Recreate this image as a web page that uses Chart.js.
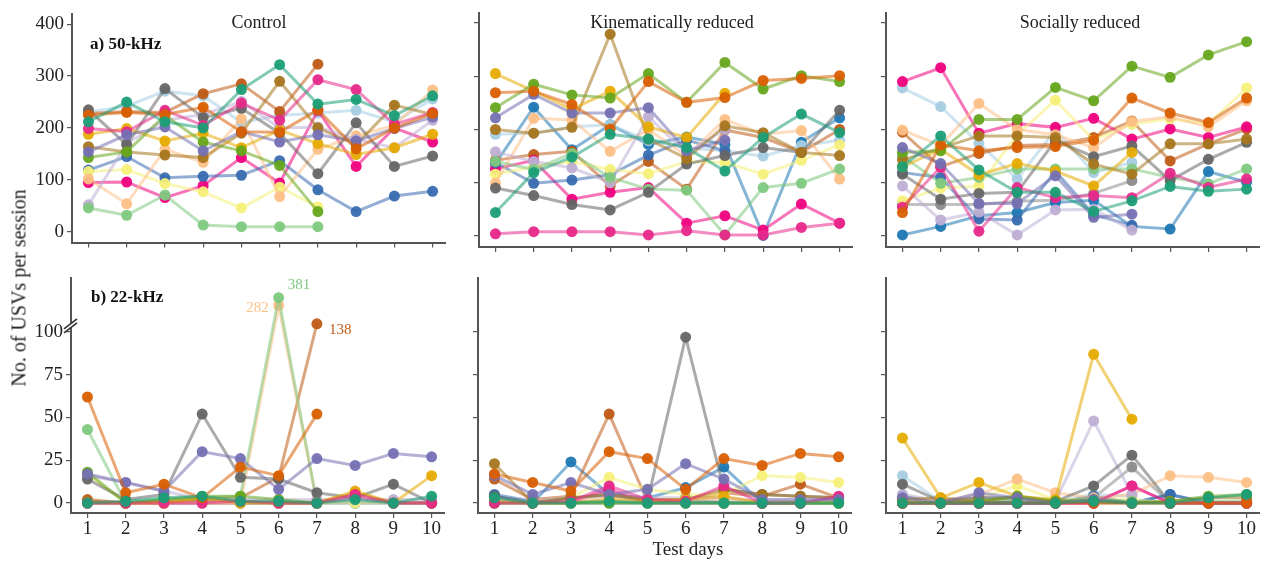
<!DOCTYPE html>
<html>
<head>
<meta charset="utf-8">
<script src="https://cdn.jsdelivr.net/npm/chart.js@4"></script>
<style>
  body { margin: 0; background: #fff; font-family: "Liberation Serif", serif; }
  #page { position: relative; width: 1264px; height: 561px; overflow: hidden; }
  canvas { position: absolute; }
  .txt { position: absolute; color: #222; font-size: 18px; white-space: nowrap; transform: translate(-50%, -50%); }
  .lbl { position: absolute; color: #111; font-size: 17px; font-weight: bold; white-space: nowrap; }
  #ytitle { position: absolute; left: 19px; top: 288px; font-size: 20px; color: #222; white-space: nowrap;
            transform: translate(-50%, -50%) rotate(-90deg); }
</style>
</head>
<body>
<div id="page">
  <canvas id="c50"></canvas>
  <canvas id="k50"></canvas>
  <canvas id="s50"></canvas>
  <canvas id="c22"></canvas>
  <canvas id="k22"></canvas>
  <canvas id="s22"></canvas>
  <div class="txt" style="left:259px;top:22px">Control</div>
  <div class="txt" style="left:672px;top:22px">Kinematically reduced</div>
  <div class="txt" style="left:1080px;top:22px">Socially reduced</div>
  <div class="lbl" style="left:90px;top:34px">a) 50-kHz</div>
  <div class="lbl" style="left:91px;top:287px">b) 22-kHz</div>
  <div class="txt" style="left:688px;top:549px;font-size:19px">Test days</div>
  <div id="ytitle">No. of USVs per session</div>
</div>
<script>
const days = [1, 2, 3, 4, 5, 6, 7, 8, 9, 10];
const ticks50 = [0, 100, 200, 300, 400];
const ticks22 = [0, 25, 50, 75, 100];

// one colour per animal, same order in every panel
const seriesColors = [
  '#1B9E77', '#D95F02', '#7570B3', '#E7298A', '#66A61E', '#E6AB02', '#A6761D', '#666666',
  '#7FC97F', '#BEAED4', '#FDC086', '#F5F07A', '#386CB0', '#F0027F', '#BF5B17', '#A6CEE3',
  '#1F78B4', '#8C8C8C'
];

// a) 50-kHz
const control50 = [
  [212, 250, 212, 200, 274, 322, 246, 255, 224, 262],
  [225, 230, 226, 240, 193, 192, 235, 160, 200, 228],
  [154, 187, 202, 156, 193, 173, 187, 175, 199, 221],
  [199, 193, 234, 205, 248, 215, 293, 274, 207, 230],
  [143, 154, 224, 173, 156, 128, 39, null, null, null],
  [188, 199, 175, 190, 162, 196, 170, 149, 162, 188],
  [164, 154, 148, 143, 190, 290, 200, 168, 244, 226],
  [235, 168, 276, 220, 238, 190, 112, 210, 126, 146],
  [46, 32, 71, 13, 10, 10, 10, null, null, null],
  [52, 170, 215, 226, 251, 200, 202, 178, 162, 215],
  [102, 54, 159, 134, 218, 68, 159, 185, 205, 273],
  [116, 120, 93, 77, 46, 86, 48, null, null, null],
  [119, 145, 104, 107, 109, 137, 81, 39, 69, 78],
  [95, 96, 66, 89, 143, 94, 234, 126, 200, 173],
  [228, 232, 230, 266, 285, 232, 323, null, null, null],
  [231, 242, 271, 262, 211, 224, 229, 234, 212, 256]
];
const kinematic50 = [
  [44, 119, 148, 191, 182, 166, 122, 185, 229, 194],
  [269, 272, 247, 201, 290, 251, 260, 292, 296, 301],
  [222, 266, 231, 231, 241, 160, 180, null, null, null],
  [4, 8, 8, 8, 2, 10, 2, 2, 16, 24],
  [241, 285, 265, 259, 305, 251, 326, 276, 301, 290],
  [305, 272, 238, 272, 205, 185, 268, null, null, null],
  [200, 193, 204, 379, 182, 145, 207, 194, 157, 151],
  [90, 76, 59, 49, 82, 135, 151, 166, 157, 236],
  [140, 125, 155, 110, 88, 86, 2, 91, 99, 126],
  [158, 140, 128, 100, 224, 155, 200, null, null, null],
  [99, 221, 218, 159, 200, 150, 219, 191, 198, 107],
  [116, 130, 140, 125, 117, 140, 138, 116, 142, 171],
  [138, 99, 105, 115, 152, 180, 160, null, null, null],
  [126, 142, 69, 82, 91, 24, 38, 11, 60, 24],
  [142, 153, 159, 94, 140, 88, 199, 185, 157, 200],
  [191, 193, 205, 209, 179, 165, 160, 150, 170, 180],
  [136, 242, 162, 209, 172, 186, 172, 1, 176, 222]
];
const social50 = [
  [130, 188, 124, 82, 82, 46, 66, 93, 84, 88],
  [44, 171, 160, 166, 168, 180, 259, 231, 213, 259],
  [166, 136, 61, 61, 113, 35, 41, null, null, null],
  [54, 129, 9, 91, 72, 76, 72, 118, 91, 107],
  [157, 160, 219, 219, 279, 254, 319, 298, 340, 365],
  [130, 163, 115, 136, 122, 94, 157, null, null, null],
  [143, 165, 188, 188, 185, 135, 116, 173, 173, 182],
  [116, 69, 80, 82, 179, 149, 169, 104, 144, 176],
  [150, 99, 110, 126, 126, 126, 126, 110, 98, 126],
  [94, 30, 45, 2, 49, 50, 11, null, null, null],
  [199, 170, 249, 200, 190, 166, 215, 224, 205, 254],
  [66, 90, 94, 190, 255, 180, 210, 220, 210, 278],
  [119, 110, 32, 30, 122, 40, 20, null, null, null],
  [290, 316, 193, 211, 204, 221, 182, 201, 185, 205],
  [195, 130, 155, 170, 172, 185, 216, 141, 173, 201],
  [278, 243, 174, 107, 199, 119, 138, null, null, null],
  [2, 18, 38, 44, 63, 67, 18, 13, 121, 101],
  [59, 59, 59, 65, 67, 80, 104, null, null, null]
];

// b) 22-kHz
const control22 = [
  [0, 1, 3, 4, 1, 1, 0, 2, 0, 4],
  [62, 6, 11, 3, 21, 16, 52, null, null, null],
  [17, 12, 7, 30, 26, 8, 26, 22, 29, 27],
  [0, 0, 0, 0, 1, 0, 0, 5, 0, 0],
  [18, 0, 2, 4, 4, 2, 0, null, null, null],
  [0, 0, 0, 3, 0, 0, 0, 7, 0, 16],
  [1, 0, 1, 2, 1, 0, 0, 6, 0, 0],
  [14, 2, 5, 52, 15, 14, 6, 3, 11, 0],
  [43, 0, 2, 3, 4, 381, 0, null, null, null],
  [16, 12, 7, 2, 2, 2, 2, 2, 2, 2],
  [0, 0, 0, 0, 0, 282, 0, null, null, null],
  [17, 0, 0, 0, 0, 0, 0, 0, 0, 0],
  [0, 0, 0, 0, 0, 0, 0, 0, 0, 0],
  [0, 0, 0, 0, 0, 0, 0, 3, 0, 0],
  [2, 0, 0, 2, 3, 15, 138, null, null, null],
  [0, 0, 0, 0, 0, 0, 0, 0, 0, 0]
];
const kinematic22 = [
  [3, 0, 0, 1, 0, 0, 0, 0, 0, 0],
  [17, 12, 7, 30, 26, 8, 26, 22, 29, 27],
  [16, 5, 12, 5, 8, 23, 14, 2, 2, 2],
  [0, 0, 1, 10, 2, 1, 10, 0, 0, 4],
  [0, 0, 0, 0, 0, 0, 0, 0, 0, 0],
  [1, 0, 0, 2, 1, 2, 4, 0, 0, 0],
  [23, 0, 3, 5, 2, 2, 8, 5, 4, 3],
  [4, 0, 3, 5, 1, 97, 8, 5, 4, 3],
  [0, 0, 0, 0, 0, 0, 0, 0, 0, 0],
  [2, 1, 3, 4, 3, 3, 3, 1, 1, 1],
  [1, 0, 2, 3, 2, 2, 2, 1, 1, 1],
  [2, 0, 3, 15, 8, 5, 5, 16, 15, 12],
  [5, 1, 0, 0, 0, 2, 0, 0, 0, 0],
  [0, 0, 0, 8, 0, 0, 0, 0, 0, 3],
  [14, 2, 4, 52, 1, 2, 6, 4, 11, 3],
  [3, 1, 1, 1, 1, 1, 1, 0, 0, 0],
  [4, 0, 24, 5, 3, 9, 21, 0, 0, 0]
];
const social22 = [
  [0, 0, 0, 0, 0, 1, 0, 0, 3, 5],
  [0, 0, 0, 0, 0, 0, 0, 0, 0, 0],
  [3, 0, 6, 3, 0, 2, 0, null, null, null],
  [0, 0, 0, 0, 0, 0, 10, 0, 0, 0],
  [0, 0, 1, 4, 1, 2, 0, 1, 4, 5],
  [38, 3, 12, 4, 2, 87, 49, null, null, null],
  [2, 3, 1, 4, 1, 1, 0, 1, 3, 3],
  [11, 1, 3, 3, 1, 10, 28, 0, 0, 0],
  [1, 0, 1, 2, 1, 2, 1, 0, 1, 1],
  [5, 1, 4, 2, 1, 48, 5, null, null, null],
  [3, 1, 5, 14, 6, 3, 5, 16, 15, 12],
  [1, 1, 3, 10, 2, 2, 2, 0, 0, 0],
  [4, 0, 0, 0, 0, 4, 0, 5, 0, 0],
  [0, 0, 0, 0, 0, 0, 10, 0, 0, 0],
  [0, 0, 0, 0, 0, 0, 0, 0, 0, 0],
  [16, 1, 3, 2, 1, 5, 4, null, null, null],
  [4, 0, 0, 0, 0, 4, 0, 5, 0, 0],
  [2, 0, 1, 2, 1, 3, 21, 0, 0, 0]
];

const FONT = "'Liberation Serif', serif";
const AXIS = '#555';

function alpha(hex, a) {
  const n = parseInt(hex.slice(1), 16);
  return `rgba(${n >> 16}, ${(n >> 8) & 255}, ${n & 255}, ${a})`;
}

// values above 100 sit on the squeezed part of the broken axis
function squash(v) {
  if (v === null) return null;
  return v > 100 ? 100 + 15 * Math.log(v / 100) : v;
}

const breakPlugin = {
  id: 'axisBreak',
  afterDraw(chart) {
    if (!chart.options.axisBreak) return;
    const ctx = chart.ctx;
    const x = chart.chartArea.left;
    const y = chart.scales.y.getPixelForValue(103);
    ctx.save();
    ctx.fillStyle = '#fff';
    ctx.fillRect(x - 3, y - 4, 6, 5);
    ctx.strokeStyle = '#333';
    ctx.lineWidth = 1.6;
    ctx.beginPath();
    ctx.moveTo(x - 7, y + 2); ctx.lineTo(x + 6, y - 8);
    ctx.moveTo(x - 7, y + 6); ctx.lineTo(x + 6, y - 4);
    ctx.stroke();
    ctx.restore();
  }
};

const bigLabelPlugin = {
  id: 'bigLabels',
  afterDatasetsDraw(chart) {
    if (!chart.options.axisBreak) return;
    const ctx = chart.ctx;
    ctx.save();
    ctx.font = "15px " + FONT;
    ctx.textBaseline = 'middle';
    chart.data.datasets.forEach((ds, i) => {
      ds.raw.forEach((v, j) => {
        if (v === null || v <= 100) return;
        const pt = chart.getDatasetMeta(i).data[j];
        ctx.fillStyle = ds.labelColor;
        if (ds.labelSide === 'left') {
          ctx.textAlign = 'right';
          ctx.fillText(String(v), pt.x - 10, pt.y + 3);
        } else if (ds.labelSide === 'up') {
          ctx.textAlign = 'left';
          ctx.fillText(String(v), pt.x + 9, pt.y - 13);
        } else {
          ctx.textAlign = 'left';
          ctx.fillText(String(v), pt.x + 12, pt.y + 6);
        }
      });
    });
    ctx.restore();
  }
};

function makePanel(id, series, cfg) {
  const canvas = document.getElementById(id);
  const yw = 55;
  const plotW = 374;
  canvas.width = yw + plotW;
  canvas.height = cfg.padTop + cfg.plotH + cfg.xh;
  canvas.style.left = (cfg.axisX - yw) + 'px';
  canvas.style.top = cfg.top + 'px';
  const toY = cfg.axisBreak ? squash : (v => v);

  const datasets = series.map((vals, i) => {
    const col = seriesColors[i];
    return {
      data: days.map((d, j) => ({ x: d, y: toY(vals[j]) })),
      raw: vals,
      labelColor: col,
      labelSide: col === '#FDC086' ? 'left' : (col === '#7FC97F' ? 'up' : 'right'),
      borderColor: alpha(col, 0.55),
      backgroundColor: alpha(col, 0.95),
      pointBackgroundColor: alpha(col, 0.95),
      pointBorderWidth: 0,
      pointRadius: 5.5,
      borderWidth: 3,
      spanGaps: false
    };
  });

  return new Chart(canvas, {
    type: 'line',
    data: { datasets },
    plugins: [breakPlugin, bigLabelPlugin],
    options: {
      responsive: false,
      animation: false,
      axisBreak: cfg.axisBreak || false,
      layout: { padding: { top: cfg.padTop, left: 0, right: 0, bottom: 0 }, autoPadding: false },
      plugins: { legend: { display: false }, tooltip: { enabled: false } },
      scales: {
        x: {
          type: 'linear',
          min: 0.57,
          max: 10.35,
          afterBuildTicks: s => { s.ticks = days.map(v => ({ value: v })); },
          afterFit: s => { s.height = cfg.xh; },
          border: { display: true, color: AXIS, width: 2 },
          grid: { drawOnChartArea: false, drawTicks: true, tickLength: 5, color: AXIS, lineWidth: 1.2 },
          ticks: { display: cfg.xLabels, padding: 0, color: '#222', font: { family: FONT, size: 19 } }
        },
        y: {
          min: cfg.ymin,
          max: cfg.ymax,
          afterBuildTicks: s => { s.ticks = cfg.yticks.map(v => ({ value: v })); },
          afterFit: s => { s.width = yw; },
          border: { display: true, color: AXIS, width: 2 },
          grid: { drawOnChartArea: false, drawTicks: true, tickLength: 5, color: AXIS, lineWidth: 1.2 },
          ticks: { display: cfg.yLabels, padding: 3, color: '#222', font: { family: FONT, size: 19 } }
        }
      }
    }
  });
}

const top50 = { top: 0, padTop: 13, plotH: 234, xh: 10, ymin: -20.7, ymax: 418.8, yticks: ticks50, xLabels: false };
const bot22 = { top: 260, padTop: 18, plotH: 235, xh: 30, ymin: -5.85, ymax: 131.6, yticks: ticks22, xLabels: true };

makePanel('c50', control50, { ...top50, axisX: 72, yLabels: true });
makePanel('k50', kinematic50, { ...top50, axisX: 479, yLabels: false });
makePanel('s50', social50, { ...top50, axisX: 886, yLabels: false });
makePanel('c22', control22, { ...bot22, axisX: 71, yLabels: true, axisBreak: true });
makePanel('k22', kinematic22, { ...bot22, axisX: 478, yLabels: false });
makePanel('s22', social22, { ...bot22, axisX: 886, yLabels: false });
</script>
</body>
</html>
